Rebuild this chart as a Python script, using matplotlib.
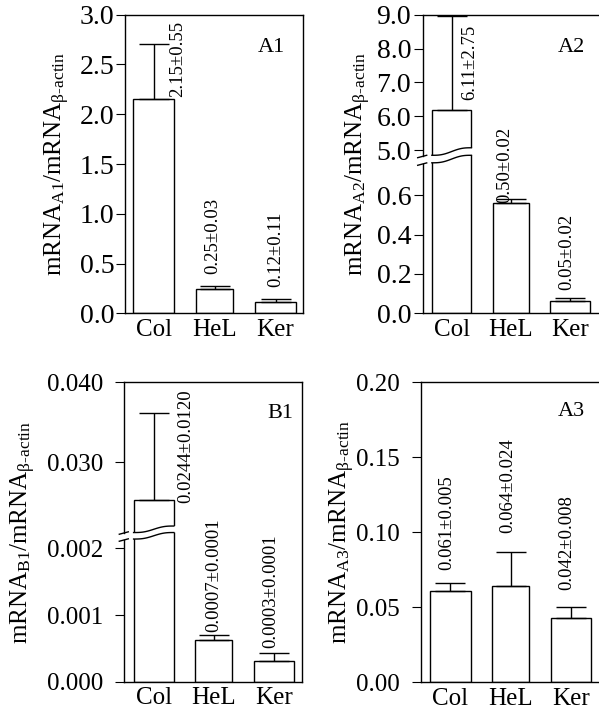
import numpy as np
import matplotlib
matplotlib.use('Agg')
import matplotlib.pyplot as plt
from matplotlib.patches import Polygon

plt.rcParams['font.family'] = ['Liberation Serif', 'DejaVu Serif']
plt.rcParams['mathtext.fontset'] = 'custom'
plt.rcParams['mathtext.rm'] = 'Liberation Serif'
plt.rcParams['mathtext.it'] = 'Liberation Serif:italic'
plt.rcParams['mathtext.bf'] = 'Liberation Serif:bold'

cells = ['Col', 'HeL', 'Ker']

# panel A1
a1_mean = [2.15, 0.24, 0.11]
a1_err = [0.56, 0.03, 0.03]
a1_text = ['2.15±0.55', '0.25±0.03', '0.12±0.11']
a1_ticks = [0.0, 0.5, 1.0, 1.5, 2.0, 2.5, 3.0]
a1_ticklabels = ['0.0', '0.5', '1.0', '1.5', '2.0', '2.5', '3.0']

# panel A2 (broken axis)
a2_mean = [6.18, 0.56, 0.06]
a2_err = [2.78, 0.02, 0.017]
a2_text = ['6.11±2.75', '0.50±0.02', '0.05±0.02']
a2_ticks = [0.0, 0.2, 0.4, 0.6, 5.0, 6.0, 7.0, 8.0, 9.0]
a2_ticklabels = ['0.0', '0.2', '0.4', '0.6', '5.0', '6.0', '7.0', '8.0', '9.0']
a2_break = [0.76, 4.8]

# panel B1 (broken axis)
b1_mean = [0.0253, 0.000625, 0.00031]
b1_err = [0.0109, 0.000075, 0.000125]
b1_text = ['0.0244±0.0120', '0.0007±0.0001', '0.0003±0.0001']
b1_ticks = [0.0, 0.001, 0.002, 0.030, 0.040]
b1_ticklabels = ['0.000', '0.001', '0.002', '0.030', '0.040']
b1_break = [0.0021, 0.0215]

# panel A3
a3_mean = [0.061, 0.064, 0.043]
a3_err = [0.005, 0.023, 0.007]
a3_text = ['0.061±0.005', '0.064±0.024', '0.042±0.008']
a3_ticks = [0.0, 0.05, 0.10, 0.15, 0.20]
a3_ticklabels = ['0.00', '0.05', '0.10', '0.15', '0.20']

BAR_W = [0.67, 0.61, 0.67]
FIG_W, FIG_H = 599, 715


def rect(l, r, t, b):
    return [l / FIG_W, 1 - b / FIG_H, (r - l) / FIG_W, (b - t) / FIG_H]


def piecewise(vals, px):
    vals = np.asarray(vals, float)
    px = np.asarray(px, float)

    def conv(y, a, b):
        y = np.asarray(y, float)
        out = np.interp(y, a, b)
        out = np.where(y < a[0], b[0] + (y - a[0]) * (b[1] - b[0]) / (a[1] - a[0]), out)
        out = np.where(y > a[-1], b[-1] + (y - a[-1]) * (b[-1] - b[-2]) / (a[-1] - a[-2]), out)
        return out

    return (lambda y: conv(y, vals, px)), (lambda p: conv(p, px, vals))


def ylabel_text(sub):
    return r'mRNA$_{\rm %s}$/mRNA$_{\text{β-actin}}$' % sub


def panel(ax, mean, err, texts, ticks, ticklabels, ylim, xlim, sub, letter,
          letter_pos, label_x, label_pos, tick_fs, tick_pad):
    x = np.arange(len(cells))
    ax.bar(x, mean, width=BAR_W, color='white', edgecolor='black', linewidth=1.0, zorder=2)
    ax.errorbar(x, mean, yerr=[np.zeros(len(err)), err], fmt='none', ecolor='black',
                elinewidth=1.0, capsize=10.5, capthick=1.0, zorder=2)
    ax.set_xlim(*xlim)
    ax.set_ylim(*ylim)
    ax.set_yticks(ticks)
    ax.set_yticklabels(ticklabels)
    ax.set_xticks(x)
    ax.set_xticklabels(cells)
    ax.tick_params(axis='y', direction='out', length=6.3, width=0.8,
                   labelsize=tick_fs, pad=tick_pad)
    ax.tick_params(axis='x', length=0, labelsize=18, pad=4)
    for s in ax.spines.values():
        s.set_linewidth(1.0)
    ax.set_ylabel(ylabel_text(sub), fontsize=18)
    ax.yaxis.set_label_coords(label_x, 0.5)
    ax.text(letter_pos[0], letter_pos[1], letter, transform=ax.transAxes,
            ha='right', va='baseline', fontsize=16)
    for i, (kind, dx, dy) in enumerate(label_pos):
        y = mean[i] if kind == 'bar' else mean[i] + err[i]
        ax.annotate(texts[i], xy=(x[i], y), xytext=(dx * 0.72, dy * 0.72),
                    textcoords='offset points', rotation=90, ha='center', va='bottom',
                    fontsize=13.5, zorder=5)


def draw_break(ax, total_px, xc, w, lo_left, rise, gap, spine_lo, spine_hi):
    W, H = ax.bbox.width, ax.bbox.height
    trans = ax.get_xaxis_transform()
    t = np.linspace(0, 1, 80)
    s = t - np.sin(2 * np.pi * t) / (2 * np.pi)
    xs = xc - w / 2 + w * t
    lower = (lo_left + rise * s) / total_px
    upper = lower + gap / total_px
    pad = 0.04
    px_ = np.r_[xs[0] - pad, xs, xs[-1] + pad, xs[-1] + pad, xs[::-1], xs[0] - pad]
    py_ = np.r_[lower[0], lower, lower[-1], upper[-1], upper[::-1], upper[0]]
    ax.add_patch(Polygon(np.column_stack([px_, py_]), closed=True, transform=trans,
                         facecolor='white', edgecolor='none', zorder=3, clip_on=False))
    ax.plot(xs, lower, transform=trans, color='black', lw=1.0, zorder=4, clip_on=False)
    ax.plot(xs, upper, transform=trans, color='black', lw=1.0, zorder=4, clip_on=False)
    # broken left spine
    ax.spines['left'].set_visible(False)
    lo, hi = spine_lo / total_px, spine_hi / total_px
    ax.plot([0, 0], [0, lo], transform=ax.transAxes, color='black', lw=1.0, clip_on=False)
    ax.plot([0, 0], [hi, 1], transform=ax.transAxes, color='black', lw=1.0, clip_on=False)
    for yy in (lo, hi):
        ax.plot([-5 / W, 4 / W], [yy - 1.2 / H, yy + 1.2 / H], transform=ax.transAxes,
                color='black', lw=1.0, clip_on=False)


fig = plt.figure(figsize=(FIG_W / 100, FIG_H / 100), dpi=100)

ax1 = fig.add_axes(rect(125, 303, 14.7, 313.3))
panel(ax1, a1_mean, a1_err, a1_text, a1_ticks, a1_ticklabels, (0, 3.0), (-0.47, 2.45),
      'A1', 'A1', (0.899, 0.875), (72 - 125) / 178,
      [('bar', 23.5, 2), ('err', -1.5, 12), ('err', 0.5, 12)], 20, 1.5)

ax2 = fig.add_axes(rect(422.7, 600.5, 14.7, 313.3))
a2_px = [0, 196.5 * a2_break[0], 196.5 * a2_break[0] + 6.9,
         196.5 * a2_break[0] + 6.9 + 33.8 * (9.0 - a2_break[1])]
f2, i2 = piecewise([0, a2_break[0], a2_break[1], 9.0], a2_px)
ax2.set_yscale('function', functions=(f2, i2))
panel(ax2, a2_mean, a2_err, a2_text, a2_ticks, a2_ticklabels, (0, 9.0), (-0.49, 2.52),
      'A2', 'A2', (0.914, 0.875), (373 - 422.7) / 177.6,
      [('bar', 18.3, 10), ('bar', -6.4, 0), ('err', -2.6, 8)], 20, 2)
draw_break(ax2, a2_px[-1], 0, BAR_W[0], 150.3, 7.5, 7.5, 149.0, 156.6)

ax3 = fig.add_axes(rect(124.3, 302, 382.3, 681.7))
b1_px = [0, 66700 * b1_break[0], 66700 * b1_break[0] + 11.4,
         66700 * b1_break[0] + 11.4 + 8000 * (0.040 - b1_break[1])]
f3, i3 = piecewise([0, b1_break[0], b1_break[1], 0.040], b1_px)
ax3.set_yscale('function', functions=(f3, i3))
panel(ax3, b1_mean, b1_err, b1_text, b1_ticks, b1_ticklabels, (0, 0.040), (-0.49, 2.47),
      'B1', 'B1', (0.949, 0.881), (38 - 124.3) / 177.7,
      [('bar', 32, -3), ('err', 0, 3), ('err', -2.7, 5)], 18, 9)
draw_break(ax3, b1_px[-1], 0, BAR_W[0], 142.7, 6.5, 6.5, 141.7, 148.7)

ax4 = fig.add_axes(rect(421, 600, 382.3, 682.3))
panel(ax4, a3_mean, a3_err, a3_text, a3_ticks, a3_ticklabels, (0, 0.20), (-0.484, 2.476),
      'A3', 'A3', (0.916, 0.888), (357 - 421) / 179,
      [('err', -3.6, 13), ('err', -2.8, 19), ('err', -4.5, 17)], 18, 9)

fig.savefig('out.png', dpi=100)
